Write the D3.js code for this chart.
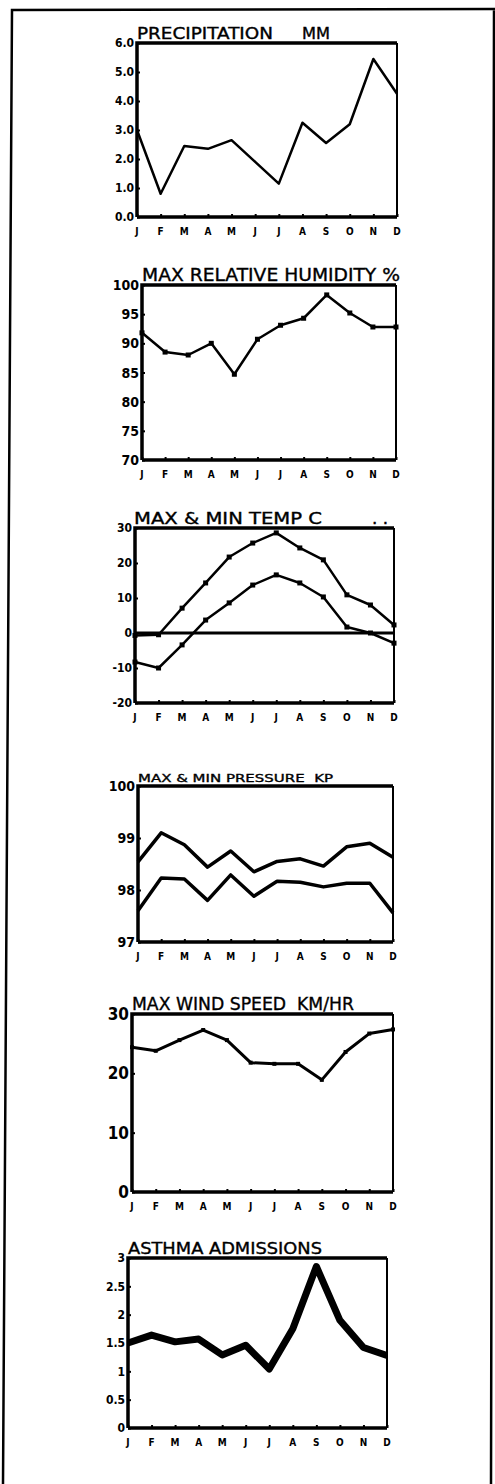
<!DOCTYPE html>
<html>
<head>
<meta charset="utf-8">
<script src="https://cdn.jsdelivr.net/npm/d3@7"></script>
<style>
  body { margin: 0; background: #fff; }
  svg { display: block; }
  .ttl { font-family: "DejaVu Sans", sans-serif; fill: #000; stroke: #000; stroke-width: 0.35; white-space: pre; }
  .tk { font-family: "DejaVu Sans Condensed", "DejaVu Sans", sans-serif; font-weight: bold; fill: #000; }
</style>
</head>
<body>
<svg id="chart" width="495" height="1484"></svg>
<script>
// monthly values
months = ["J", "F", "M", "A", "M", "J", "J", "A", "S", "O", "N", "D"];

precipitation = [3.0, 0.8, 2.45, 2.35, 2.65, 1.9, 1.15, 3.25, 2.55, 3.2, 5.45, 4.25];
precipTicks = [0, 1, 2, 3, 4, 5, 6];

humidity = [91.8, 88.5, 88.0, 90.0, 84.7, 90.7, 93.1, 94.3, 98.3, 95.2, 92.8, 92.8];
humidityTicks = [70, 75, 80, 85, 90, 95, 100];

tempMax = [-0.7, -0.5, 7.1, 14.3, 21.7, 25.7, 28.6, 24.3, 20.9, 10.9, 8.0, 2.3];
tempMin = [-8.3, -10.0, -3.4, 3.7, 8.6, 13.7, 16.6, 14.3, 10.3, 1.7, 0.0, -2.9];
tempTicks = [-20, -10, 0, 10, 20, 30];

pressureMax = [98.54, 99.1, 98.87, 98.44, 98.75, 98.35, 98.55, 98.6, 98.46, 98.83, 98.9, 98.63];
pressureMin = [97.6, 98.23, 98.21, 97.8, 98.29, 97.88, 98.17, 98.15, 98.06, 98.13, 98.13, 97.56];
pressureTicks = [97, 98, 99, 100];

windSpeed = [24.4, 23.8, 25.6, 27.3, 25.6, 21.8, 21.6, 21.6, 18.9, 23.6, 26.7, 27.4];
windTicks = [0, 10, 20, 30];

asthma = [1.5, 1.64, 1.52, 1.57, 1.29, 1.46, 1.04, 1.75, 2.85, 1.9, 1.42, 1.28];
asthmaTicks = [0, 0.5, 1, 1.5, 2, 2.5, 3];

svg = d3.select("#chart");

// outer border of the figure (slightly skewed in the scan)
svg.append("path")
    .attr("d", "M3,1484 L12,10 L495,9 M494,9 L491,1484")
    .attr("fill", "none")
    .attr("stroke", "#000")
    .attr("stroke-width", 2.5);

panels = [
    {title: [["PRECIPITATION", 137, 136], ["MM", 302, 28]], tfont: 15, series: [precipitation], domain: [0, 6],
     ticks: precipTicks, fmt: function (d) { return d.toFixed(1); }, left: 137, right: 397, top: 43, bottom: 217,
     lfont: 12, lw: 2.5, marker: 0},
    {title: [["MAX RELATIVE HUMIDITY %", 142, 258]], tfont: 17, series: [humidity], domain: [70, 100],
     ticks: humidityTicks, fmt: String, left: 142, right: 396, top: 285, bottom: 460,
     lfont: 14, lw: 2.5, marker: 5},
    {title: [["MAX & MIN TEMP C", 134, 188], [". .", 372, 16]], tfont: 15, series: [tempMax, tempMin], domain: [-20, 30],
     ticks: tempTicks, fmt: String, left: 135, right: 394, top: 528, bottom: 703,
     lfont: 12, lw: 2.5, marker: 5, zero: true},
    {title: [["MAX & MIN PRESSURE  KP", 138, 195]], tfont: 11, series: [pressureMax, pressureMin], domain: [97, 100],
     ticks: pressureTicks, fmt: String, left: 138, right: 393, top: 786, bottom: 942,
     lfont: 14, lw: 3.5, marker: 0},
    {title: [["MAX WIND SPEED  KM/HR", 132, 222]], tfont: 17, series: [windSpeed], domain: [0, 30],
     ticks: windTicks, fmt: String, left: 132, right: 393, top: 1014, bottom: 1192,
     lfont: 17, lw: 3, marker: 4},
    {title: [["ASTHMA ADMISSIONS", 128, 194]], tfont: 15, series: [asthma], domain: [0, 3],
     ticks: asthmaTicks, fmt: String, left: 128, right: 387, top: 1258, bottom: 1428,
     lfont: 12, lw: 7, marker: 0}
];

panels.forEach(function (p) {
    let x = d3.scaleLinear().domain([0, months.length - 1]).range([p.left, p.right]);
    let y = d3.scaleLinear().domain(p.domain).range([p.bottom, p.top]);
    let g = svg.append("g");

    // titles
    p.title.forEach(function (t) {
        g.append("text")
            .attr("class", "ttl")
            .attr("x", t[1])
            .attr("y", p.top - 4)
            .attr("font-size", p.tfont)
            .attr("textLength", t[2])
            .attr("lengthAdjust", "spacingAndGlyphs")
            .text(t[0]);
    });

    // y axis: inward ticks, labels on the left
    let yAxis = d3.axisRight(y).tickValues(p.ticks).tickSize(3).tickFormat("");
    g.append("g")
        .attr("transform", "translate(" + p.left + ",0)")
        .call(yAxis)
        .call(function (a) {
            a.select(".domain").remove();
            a.selectAll("line").attr("stroke", "#000").attr("stroke-width", 2);
        });
    g.selectAll(".ylab")
        .data(p.ticks)
        .enter().append("text")
        .attr("class", "tk")
        .attr("x", p.left - 3)
        .attr("y", function (d) { return y(d); })
        .attr("dy", "0.36em")
        .attr("text-anchor", "end")
        .attr("font-size", p.lfont)
        .text(p.fmt);

    // x axis: month ticks and letters
    let xAxis = d3.axisTop(x).tickValues(d3.range(months.length)).tickSize(3).tickFormat("");
    g.append("g")
        .attr("transform", "translate(0," + p.bottom + ")")
        .call(xAxis)
        .call(function (a) {
            a.select(".domain").remove();
            a.selectAll("line").attr("stroke", "#000").attr("stroke-width", 2);
        });
    g.selectAll(".xlab")
        .data(months)
        .enter().append("text")
        .attr("class", "tk")
        .attr("x", function (d, i) { return x(i); })
        .attr("y", p.bottom + 18)
        .attr("text-anchor", "middle")
        .attr("font-size", 10)
        .text(function (d) { return d; });

    // zero reference line
    if (p.zero) {
        g.append("line")
            .attr("x1", p.left).attr("x2", p.right)
            .attr("y1", y(0)).attr("y2", y(0))
            .attr("stroke", "#000").attr("stroke-width", 3);
    }

    // data lines
    let line = d3.line()
        .x(function (d, i) { return x(i); })
        .y(function (d) { return y(d); });
    p.series.forEach(function (s) {
        g.append("path")
            .datum(s)
            .attr("d", line)
            .attr("fill", "none")
            .attr("stroke", "#000")
            .attr("stroke-width", p.lw)
            .attr("stroke-linejoin", "round");
        if (p.marker) {
            g.selectAll(null)
                .data(s)
                .enter().append("rect")
                .attr("x", function (d, i) { return x(i) - p.marker / 2; })
                .attr("y", function (d) { return y(d) - p.marker / 2; })
                .attr("width", p.marker)
                .attr("height", p.marker)
                .attr("fill", "#000");
        }
    });

    // plot frame
    g.append("path")
        .attr("d", "M" + p.left + "," + p.bottom + "V" + p.top + "H" + p.right)
        .attr("fill", "none").attr("stroke", "#000").attr("stroke-width", 3.5);
    g.append("path")
        .attr("d", "M" + p.right + "," + p.top + "V" + p.bottom)
        .attr("fill", "none").attr("stroke", "#000").attr("stroke-width", 2);
    g.append("path")
        .attr("d", "M" + p.left + "," + p.bottom + "H" + p.right)
        .attr("fill", "none").attr("stroke", "#000").attr("stroke-width", 3.5);
});
</script>
</body>
</html>
